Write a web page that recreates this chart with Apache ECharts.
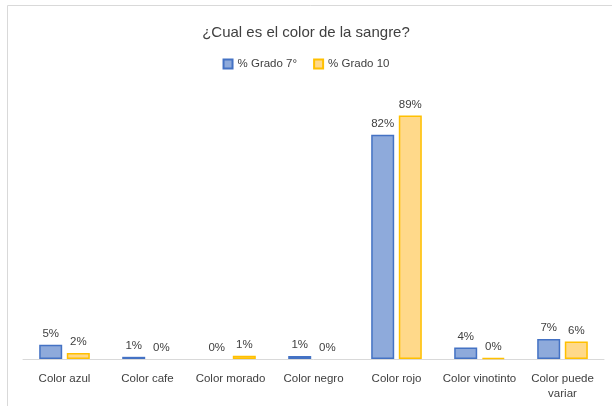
<!DOCTYPE html>
<html><head><meta charset="utf-8">
<script src="https://cdn.jsdelivr.net/npm/echarts@6/dist/echarts.min.js"></script>
<style>html,body{margin:0;padding:0;background:#fff}#c{width:612px;height:406px}</style>
</head><body><div id="c"></div>
<script>
const categories = ['Color azul','Color cafe','Color morado','Color negro','Color rojo','Color vinotinto','Color puede\nvariar'];
const grado7 = [5.2, 0.8, 0, 1.1, 82.1, 4.2, 7.3];
const grado10 = [2.2, 0, 1.2, 0, 89.2, 0.4, 6.4];
const seriesNames = ['% Grado 7°', '% Grado 10'];
const font = 'Liberation Sans';
const chart = echarts.init(document.getElementById('c'));
const lbl = {show:true, position:'top', distance:5, color:'#404040', fontSize:11.5, fontFamily:font,
  formatter: p => Math.round(p.value) + '%'};
const toItems = arr => arr.map(v => v === 0 ? {value:v, itemStyle:{borderWidth:0}} : v);
chart.setOption({
  animation:false,
  graphic:[{type:'rect', shape:{x:7.5,y:5.5,width:640,height:440}, style:{fill:'none', stroke:'#d9d9d9', lineWidth:1}}],
  title:{text:'¿Cual es el color de la sangre?', left:'center', top:20, textStyle:{fontFamily:font, fontSize:15, fontWeight:'normal', color:'#404040'}},
  legend:{top:53, left:'center', itemWidth:9, itemHeight:9, itemGap:16, icon:'rect',
    textStyle:{fontFamily:font, fontSize:11.5, color:'#404040'}},
  grid:{left:23, right:8, top:86, bottom:47},
  xAxis:{type:'category', data:categories, axisTick:{show:false},
    axisLine:{lineStyle:{color:'#d9d9d9', width:1}},
    axisLabel:{fontFamily:font, fontSize:11.5, color:'#404040', margin:12, interval:0, lineHeight:15}},
  yAxis:{type:'value', min:0, max:100, show:false, splitLine:{show:false}},
  series:[
    {name:seriesNames[0], type:'bar', data:toItems(grado7), barWidth:23, barGap:'20%',
      itemStyle:{color:'#8eaadb', borderColor:'#4472c4', borderWidth:1.5}, label:lbl},
    {name:seriesNames[1], type:'bar', data:toItems(grado10), barWidth:23,
      itemStyle:{color:'#ffd98a', borderColor:'#ffc000', borderWidth:1.5}, label:lbl}
  ]
});
</script></body></html>
